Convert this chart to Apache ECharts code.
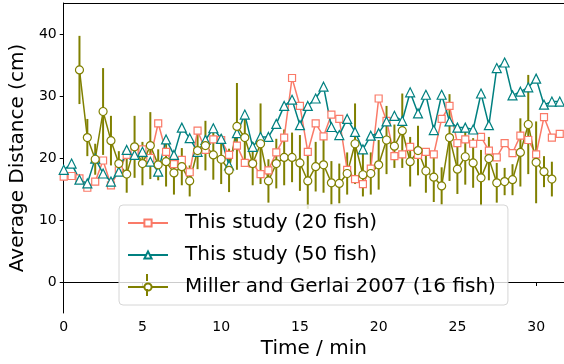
<!DOCTYPE html>
<html>
<head>
<meta charset="utf-8">
<script src="https://cdn.jsdelivr.net/npm/echarts@6/dist/echarts.min.js"></script>
<style>
  body { margin: 0; padding: 0; background: #fff; }
  #main { width: 564px; height: 364px; }
</style>
</head>
<body>
<div id="main"></div>
<script>
// sample times (min): this study every 0.5 min from 0, Miller & Gerlai every 0.5 min from 1
const timesOurs = Array.from({ length: 64 }, (_, i) => i * 0.5);
const timesMG = Array.from({ length: 61 }, (_, i) => 1 + i * 0.5);

const study20 = [17.0,17.1,16.7,15.2,16.2,19.6,15.6,18.0,20.5,21.0,
  21.4,20.0,25.6,21.0,19.0,19.7,17.7,24.4,21.3,23.0,
  22.9,20.5,22.0,19.2,19.1,17.4,18.0,20.9,23.3,32.9,
  28.4,21.0,25.6,23.5,27.0,26.3,18.1,16.6,15.8,18.3,
  29.6,26.0,20.3,20.6,21.8,20.5,21.0,20.6,26.3,28.4,
  22.4,23.0,22.3,23.4,21.2,20.1,22.4,20.8,23.6,22.9,
  20.6,26.6,23.3,23.9];

const study50 = [18.1,19.1,16.5,15.9,19.9,17.5,16.2,17.8,21.3,20.5,
  21.0,19.4,17.8,23.0,20.5,24.9,23.2,21.0,22.9,24.8,
  23.1,18.8,24.0,27.0,21.8,23.4,23.4,25.5,28.4,29.4,
  25.3,28.4,29.6,31.5,25.0,23.7,26.3,24.2,21.4,23.6,
  24.0,25.9,26.8,26.0,30.6,27.2,30.2,24.5,30.2,25.9,
  24.9,24.9,24.6,30.4,25.3,34.5,35.4,30.1,30.7,31.4,
  32.8,28.6,29.1,29.1];

const millerMean = [34.2,23.3,19.8,27.5,22.8,19.1,17.4,21.8,19.1,22.0,
  18.9,19.4,17.6,18.6,16.3,21.2,22.0,20.5,19.8,18.0,
  25.1,23.3,19.1,22.3,16.3,19.1,20.1,20.1,19.2,16.3,
  18.6,18.9,16.0,15.9,17.5,22.3,17.3,17.5,18.9,22.9,
  21.9,24.4,19.4,21.2,17.9,16.9,15.5,23.3,18.2,20.2,
  19.2,16.8,19.9,16.0,16.2,16.5,20.9,25.4,19.3,17.8,
  16.6];

const millerErr = [5.5,3.0,2.5,7.0,4.0,2.0,3.0,5.0,3.5,5.4,
  2.5,4.0,3.5,3.0,2.5,3.0,4.0,4.0,4.0,3.5,
  7.0,4.0,3.5,6.5,3.5,4.0,4.5,4.0,4.5,4.5,
  4.0,4.5,3.5,3.2,3.4,6.5,3.5,3.4,4.0,5.5,
  3.5,6.0,4.0,4.0,3.5,4.0,3.0,7.0,4.0,4.5,
  4.0,4.5,3.5,3.2,2.2,2.5,5.5,8.0,6.6,2.5,
  2.8];

const names = ['This study (20 fish)', 'This study (50 fish)', 'Miller and Gerlai 2007 (16 fish)'];
const xTicks = [0, 5, 10, 15, 20, 25, 30];
const yTicks = [0, 10, 20, 30, 40];

const cSalmon = '#fa7a68';
const cTeal = '#008080';
const cOlive = '#808000';
const font = 'DejaVu Sans';

const pairs = (xs, ys) => ys.map((v, i) => [xs[i], v]);
const errData = millerMean.map((v, i) => [timesMG[i], v - millerErr[i], v + millerErr[i]]);

const chart = echarts.init(document.getElementById('main'));
chart.setOption({
  animation: false,
  backgroundColor: '#fff',
  grid: { left: 62, right: 0, top: 3, bottom: 51 },
  legend: {
    data: names,
    orient: 'vertical',
    left: 119,
    top: 205,
    padding: [7, 12, 7, 8],
    itemWidth: 40,
    itemHeight: 9,
    itemGap: 10,
    backgroundColor: 'rgba(255,255,255,0.8)',
    borderColor: '#d6d6d6',
    borderWidth: 1,
    borderRadius: 4,
    textStyle: { fontFamily: font, fontSize: 20, color: '#000', lineHeight: 22, padding: [0, 0, 0, 12] }
  },
  // error-bar stroke on the legend handle of the Miller & Gerlai entry
  graphic: [
    { type: 'line', z: 100, shape: { x1: 147, y1: 274, x2: 147, y2: 281 }, style: { stroke: cOlive, lineWidth: 2 } },
    { type: 'line', z: 100, shape: { x1: 147, y1: 289, x2: 147, y2: 296 }, style: { stroke: cOlive, lineWidth: 2 } }
  ],
  xAxis: [{
    type: 'value',
    min: 0,
    max: 31.77,
    name: 'Time / min',
    nameLocation: 'middle',
    nameGap: 23,
    nameTextStyle: { fontFamily: font, fontSize: 20, color: '#000' },
    splitLine: { show: false },
    axisLine: { lineStyle: { color: '#000', width: 1 } },
    axisTick: { inside: false, length: 4, lineStyle: { color: '#000' }, customValues: xTicks },
    axisLabel: { fontFamily: font, fontSize: 14, color: '#000', margin: 7, customValues: xTicks }
  }, {
    type: 'value',
    position: 'top',
    min: 0,
    max: 31.77,
    axisLine: { show: true, onZero: false, lineStyle: { color: '#000', width: 1 } },
    axisTick: { show: false },
    axisLabel: { show: false },
    splitLine: { show: false }
  }],
  yAxis: {
    type: 'value',
    min: -5,
    max: 45,
    name: 'Average Distance (cm)',
    nameLocation: 'middle',
    nameGap: 32,
    nameTextStyle: { fontFamily: font, fontSize: 20, color: '#000' },
    splitLine: { show: false },
    axisLine: { show: true, lineStyle: { color: '#000', width: 1 } },
    axisTick: { show: true, inside: false, length: 4, lineStyle: { color: '#000' }, customValues: yTicks },
    axisLabel: { fontFamily: font, fontSize: 14, color: '#000', margin: 7, customValues: yTicks }
  },
  series: [{
    name: names[0],
    type: 'line',
    data: pairs(timesOurs, study20),
    symbol: 'rect',
    symbolSize: 7,
    lineStyle: { color: cSalmon, width: 1.5 },
    itemStyle: { color: '#fff', borderColor: cSalmon, borderWidth: 1.2 }
  }, {
    name: names[1],
    type: 'line',
    data: pairs(timesOurs, study50),
    symbol: 'triangle',
    symbolSize: 9,
    lineStyle: { color: cTeal, width: 1.5 },
    itemStyle: { color: '#fff', borderColor: cTeal, borderWidth: 1.2 }
  }, {
    name: 'errors',
    type: 'custom',
    data: errData,
    encode: { x: 0, y: [1, 2] },
    renderItem: (params, api) => {
      const lo = api.coord([api.value(0), api.value(1)]);
      const hi = api.coord([api.value(0), api.value(2)]);
      return {
        type: 'line',
        shape: { x1: lo[0], y1: lo[1], x2: hi[0], y2: hi[1] },
        style: { stroke: cOlive, lineWidth: 2 }
      };
    }
  }, {
    name: names[2],
    type: 'line',
    data: pairs(timesMG, millerMean),
    symbol: 'circle',
    symbolSize: 8,
    lineStyle: { color: cOlive, width: 1.5 },
    itemStyle: { color: '#fff', borderColor: cOlive, borderWidth: 1.2 }
  }]
});
</script>
</body>
</html>
